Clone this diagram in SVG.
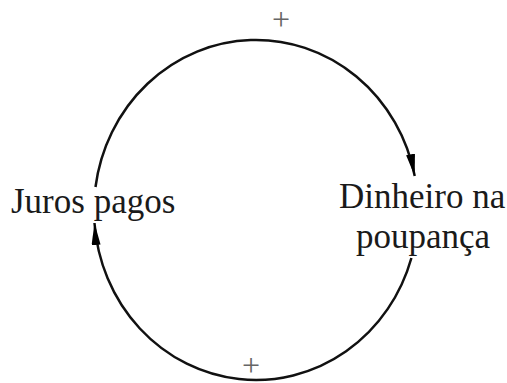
<svg xmlns="http://www.w3.org/2000/svg" width="507" height="383" viewBox="0 0 507 383">
<style>
.lbl{font-family:"Liberation Serif","Times New Roman",serif;font-size:35px;fill:#1a1a1a}
.sign{font-family:"Liberation Serif","Times New Roman",serif;font-size:32px;fill:#666}
.link{fill:none;stroke:#111;stroke-width:2.5}
</style>
<defs>
<marker id="ah" markerUnits="userSpaceOnUse" markerWidth="24" markerHeight="10" refX="22" refY="4.5" orient="auto">
<path d="M0,0 L22,4.5 L0,9 z" fill="#000"/>
</marker>
</defs>
<rect width="507" height="383" fill="#fff"/>
<g id="connectors">
<path class="link" d="M95.49,187 A162,170 0 0 1 414.73,176" marker-end="url(#ah)"/>
<path class="link" d="M411.41,258 A162,170 0 0 1 94.47,223" marker-end="url(#ah)"/>
</g>
<g id="node-juros"><text class="lbl" x="11" y="213">Juros pagos</text></g>
<g id="node-dinheiro"><text class="lbl" x="339" y="208">Dinheiro na</text><text class="lbl" x="356" y="248">poupança</text></g>
<g id="sign-top"><text class="sign" x="281" y="29.5" text-anchor="middle">+</text></g>
<g id="sign-bottom"><text class="sign" x="251" y="375.5" text-anchor="middle">+</text></g>
</svg>
